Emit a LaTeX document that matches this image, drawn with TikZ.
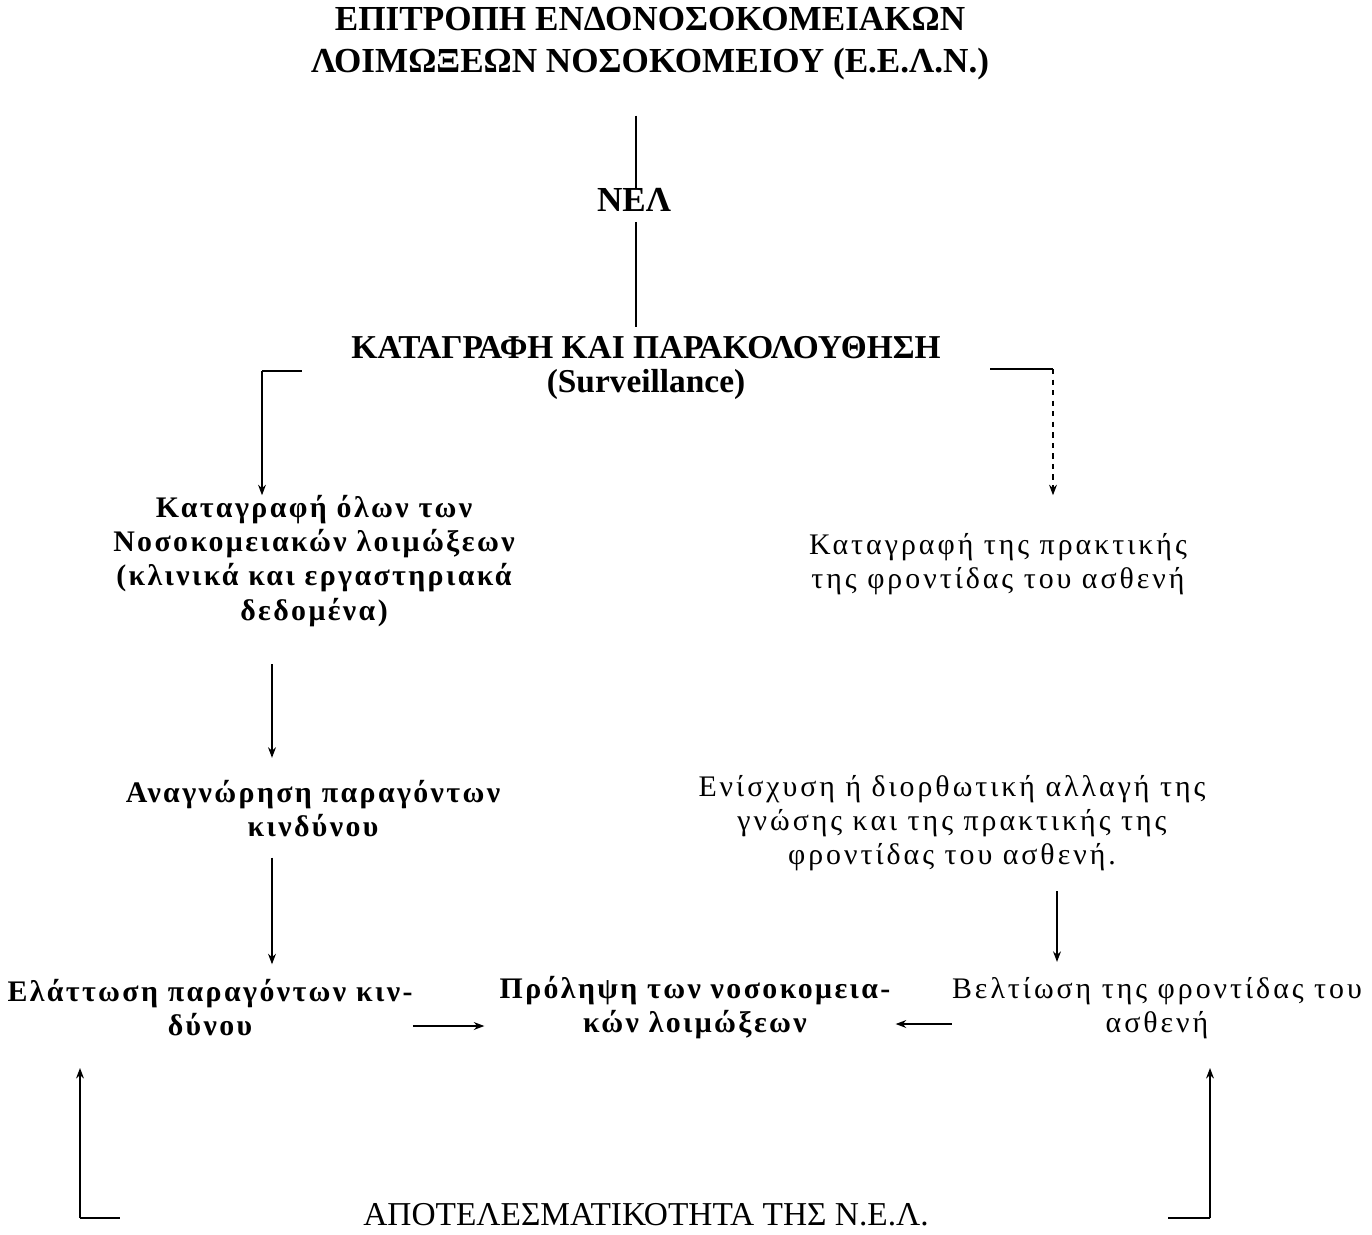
\documentclass[tikz,border=0pt]{standalone}
\usepackage{fontspec}
\setmainfont{Liberation Serif}
\newfontfamily\spaced[LetterSpace=10]{Liberation Serif}
\newfontfamily\bspaced[LetterSpace=8]{Liberation Serif}
\usetikzlibrary{arrows.meta}

\begin{document}
\begin{tikzpicture}[x=0.02cm,y=-0.02cm,
  head/.style={font=\fontsize{20}{23.8}\selectfont\bfseries,align=center,inner sep=0pt},
  txt/.style={font=\fontsize{17}{19.4}\selectfont\spaced,align=center,inner sep=0pt},
  btxt/.style={txt,font=\fontsize{17}{19.4}\selectfont\bspaced\bfseries},
  heavy/.style={line width=1.6pt},
  conn/.style={line width=0.7pt,-{Stealth[length=6pt,width=4.5pt]}}]
  \useasboundingbox (0,0) rectangle (1372,1234);
  % top of the chart
  \node[head] (eeln) at (650,44) {ΕΠΙΤΡΟΠΗ ΕΝΔΟΝΟΣΟΚΟΜΕΙΑΚΩΝ\\ΛΟΙΜΩΞΕΩΝ ΝΟΣΟΚΟΜΕΙΟΥ (Ε.Ε.Λ.Ν.)};
  \node[head] (nel) at (634,200) {ΝΕΛ};
  \node[head,font=\fontsize{19}{18.8}\selectfont\bfseries] (surv) at (646,368) {ΚΑΤΑΓΡΑΦΗ ΚΑΙ ΠΑΡΑΚΟΛΟΥΘΗΣΗ\\(Surveillance)};
  % second row
  \node[btxt] (infect) at (314,561) {Καταγραφή όλων των\\Νοσοκομειακών λοιμώξεων\\(κλινικά και εργαστηριακά\\δεδομένα)};
  \node[txt] (practice) at (998,564) {Καταγραφή της πρακτικής\\της φροντίδας του ασθενή};
  % third row
  \node[btxt] (risk) at (313,809) {Αναγνώρηση παραγόντων\\κινδύνου};
  \node[txt] (knowledge) at (952,823) {Ενίσχυση ή διορθωτική αλλαγή της\\γνώσης και της πρακτικής της\\φροντίδας του ασθενή.};
  % fourth row
  \node[btxt] (reduce) at (210,1008) {Ελάττωση παραγόντων κιν-\\δύνου};
  \node[btxt] (prevent) at (695,1008) {Πρόληψη των νοσοκομεια-\\κών λοιμώξεων};
  \node[txt] (improve) at (1157,1008) {Βελτίωση της φροντίδας του\\ασθενή};
  \node[head,font=\fontsize{19}{20}\selectfont] (effect) at (646,1215) {ΑΠΟΤΕΛΕΣΜΑΤΙΚΟΤΗΤΑ ΤΗΣ Ν.Ε.Λ.};
  % columns of the arrows
  \coordinate (kl) at (262,371);
  \coordinate (kr) at (1053,369);
  \coordinate (cl) at (272,0);
  \coordinate (cr) at (1057,0);
  \coordinate (bl) at (80,1218);
  \coordinate (br) at (1210,1218);
  % connectors
  \draw[heavy,shorten <=0.7cm] (eeln.south -| 636,0) -- (nel.north -| 636,0);
  \draw[heavy,shorten <=0.2cm,shorten >=0.2cm] (nel.south -| 636,0) -- (surv.north -| 636,0);
  \draw[heavy] (kl) -- +(40,0);
  \draw[conn] (kl) -- (kl |- infect.north);
  \draw[heavy] (kr) -- +(-63,0);
  \draw[conn,dashed] (kr) -- (kr |- infect.north);
  \draw[conn,shorten <=0.75cm,shorten >=0.45cm] (infect.south -| cl) -- (risk.north -| cl);
  \draw[conn,shorten <=0.4cm,shorten >=0.3cm] (knowledge.south -| cr) -- (improve.north -| cr);
  \draw[conn,shorten <=0.4cm,shorten >=0.3cm] (risk.south -| cl) -- (reduce.north -| cl);
  \draw[conn,shorten >=0.3cm] ([yshift=-0.36cm]reduce.east) -- ([yshift=-0.36cm]prevent.west);
  \draw[conn,shorten >=0.1cm] ([yshift=-0.32cm]improve.west) -- ([yshift=-0.32cm]prevent.east);
  \draw[heavy] (bl) -- +(40,0);
  \draw[conn] (bl) -- (bl |- 0,1068);
  \draw[heavy] (br) -- +(-42,0);
  \draw[conn] (br) -- (br |- 0,1068);
\end{tikzpicture}
\end{document}
